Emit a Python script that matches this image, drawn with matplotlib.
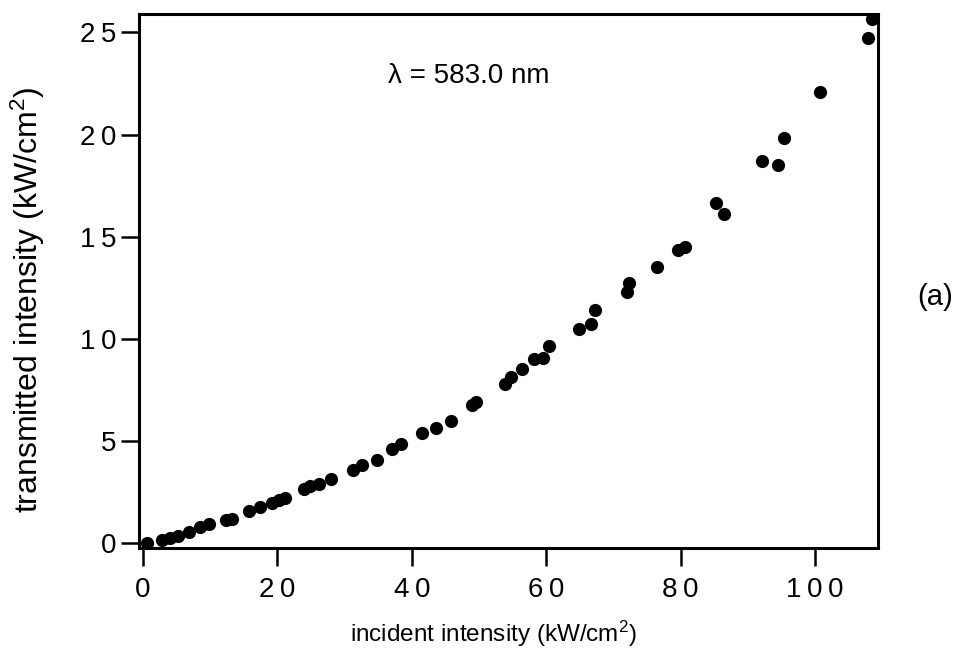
import numpy as np
import matplotlib.pyplot as plt

plt.rcParams['font.family'] = ['Liberation Sans', 'DejaVu Sans']
plt.rcParams['mathtext.fontset'] = 'custom'
plt.rcParams['mathtext.rm'] = 'Liberation Sans'
plt.rcParams['mathtext.it'] = 'Liberation Sans:italic'

# measured points: incident vs transmitted intensity (kW/cm^2)
incident = [0.55, 2.78, 4.02, 5.25, 6.89, 8.48, 9.82, 12.35, 13.29, 15.82,
            17.41, 19.24, 20.24, 21.13, 23.96, 24.85, 26.19, 28.02, 31.21, 32.54,
            34.87, 37.01, 38.39, 41.47, 43.60, 45.83, 48.91, 49.51, 53.87, 54.72,
            56.44, 58.23, 59.57, 60.37, 64.84, 66.71, 67.26, 72.07, 72.37, 76.49,
            79.57, 80.70, 85.27, 86.50, 92.11, 94.49, 95.34, 100.74, 107.93, 108.44]
transmitted = [0.03, 0.15, 0.27, 0.36, 0.55, 0.80, 0.93, 1.14, 1.19, 1.59,
               1.79, 1.96, 2.12, 2.23, 2.64, 2.80, 2.92, 3.16, 3.59, 3.83,
               4.08, 4.61, 4.86, 5.38, 5.66, 5.98, 6.75, 6.93, 7.79, 8.15,
               8.54, 9.00, 9.05, 9.67, 10.48, 10.71, 11.41, 12.31, 12.72, 13.53,
               14.35, 14.50, 16.63, 16.11, 18.70, 18.52, 19.84, 22.06, 24.74, 25.65]

xticks = [0, 20, 40, 60, 80, 100]
yticks = [0, 5, 10, 15, 20, 25]


def spaced(v):
    # the original prints digits with wide letter spacing
    return '\u2009'.join(str(v))


fig = plt.figure(figsize=(9.73, 6.65), dpi=100)
ax = fig.add_axes([0.1429, 0.176, 0.7595, 0.803])

ax.plot(incident, transmitted, 'o', color='black', ms=9.5, mew=0)

ax.set_xlim(-0.6, 109.4)
ax.set_ylim(-0.23, 25.9)
ax.set_xticks(xticks)
ax.set_xticklabels([spaced(v) for v in xticks])
ax.set_yticks(yticks)
ax.set_yticklabels([spaced(v) for v in yticks])

for s in ax.spines.values():
    s.set_linewidth(2.2)
ax.tick_params(direction='out', length=13, width=1.8, labelsize=20, color='black')
ax.tick_params(axis='x', pad=8)
ax.tick_params(axis='y', pad=3)

ax.set_xlabel(r'incident intensity (kW/cm$^2$)', fontsize=17.5, labelpad=11)
ax.set_ylabel(r'transmitted intensity (kW/cm$^2$)', fontsize=23, labelpad=24)
ax.xaxis.label.set_x(0.48)
ax.yaxis.label.set_y(0.464)

ax.text(0.337, 0.883, '\u03bb = 583.0 nm', transform=ax.transAxes, fontsize=20,
        ha='left', va='center')
fig.text(0.961, 0.553, '(a)', fontsize=21, ha='center', va='center')

fig.savefig('out.png', dpi=100)
